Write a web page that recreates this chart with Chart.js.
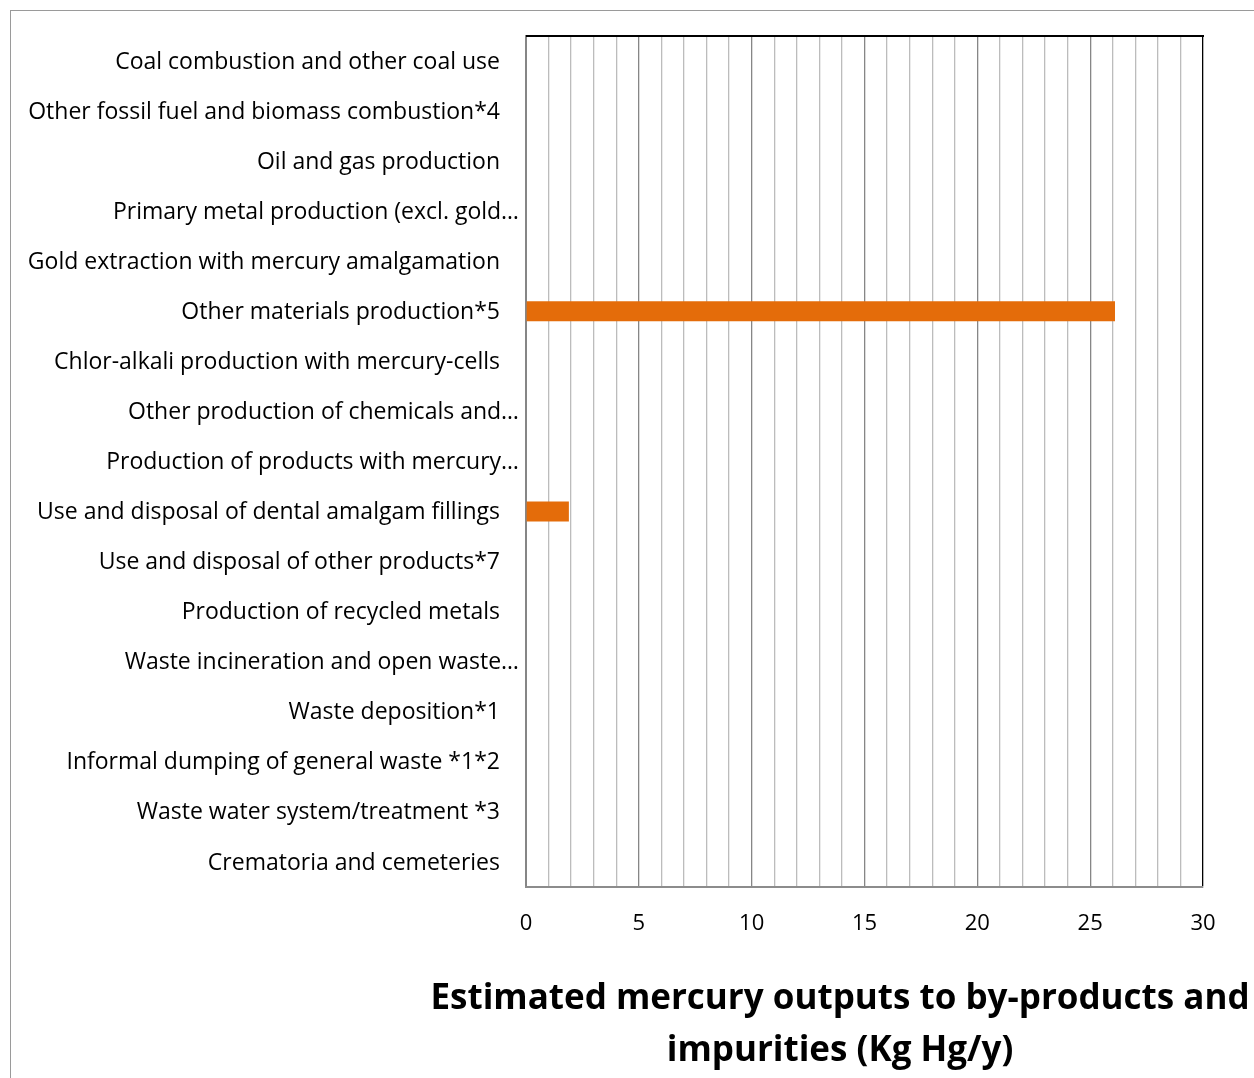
<!DOCTYPE html>
<html>
<head>
<meta charset="utf-8">
<script src="https://cdn.jsdelivr.net/npm/chart.js@4"></script>
<style>
  html, body { margin: 0; padding: 0; background: #fff; overflow: hidden; }
  #wrap { position: relative; width: 1254px; height: 1078px; }
  #frame { position: absolute; left: 10px; top: 10px; width: 1260px; height: 1100px;
           border-left: 1px solid #9a9a9a; border-top: 1px solid #9a9a9a; }
  canvas { position: absolute; left: 0; top: 0; }
</style>
</head>
<body>
<div id="wrap">
  <div id="frame"></div>
  <canvas id="c" width="1254" height="1078"></canvas>
</div>
<script>
// Source categories, top to bottom
const categories = [
  "Coal combustion and other coal use",
  "Other fossil fuel and biomass combustion*4",
  "Oil and gas production",
  "Primary metal production (excl. gold…",
  "Gold extraction with mercury amalgamation",
  "Other materials production*5",
  "Chlor-alkali production with mercury-cells",
  "Other production of chemicals and…",
  "Production of products with mercury…",
  "Use and disposal of dental amalgam fillings",
  "Use and disposal of other products*7",
  "Production of recycled metals",
  "Waste incineration and open waste…",
  "Waste deposition*1",
  "Informal dumping of general waste *1*2",
  "Waste water system/treatment *3",
  "Crematoria and cemeteries"
];

// Estimated outputs to by-products and impurities, Kg Hg/y
const outputs = [0, 0, 0, 0, 0, 26.1, 0, 0, 0, 1.9, 0, 0, 0, 0, 0, 0, 0];

const xMin = 0;
const xMax = 30;
const xLabelStep = 5;

const titleLines = [
  "Estimated mercury outputs to by-products and",
  "impurities (Kg Hg/y)"
];

const FONT = "'Open Sans', Lato, sans-serif";

// Category labels, right-aligned against the value axis
const categoryLabels = {
  id: 'categoryLabels',
  afterDraw(chart) {
    const { ctx, chartArea } = chart;
    const yScale = chart.scales.y;
    ctx.save();
    ctx.font = "23px " + FONT;
    ctx.fillStyle = "#000";
    ctx.textAlign = "right";
    ctx.textBaseline = "middle";
    categories.forEach((label, i) => {
      const y = yScale.getPixelForTick(i) + 1;
      const x = label.endsWith("…") ? chartArea.left - 7 : chartArea.left - 26;
      ctx.fillText(label, x, y);
    });
    ctx.restore();
  }
};

// Plot frame top edge and the axis title below the chart
const frameAndTitle = {
  id: 'frameAndTitle',
  beforeDatasetsDraw(chart) {
    const { ctx, chartArea } = chart;
    ctx.save();
    ctx.strokeStyle = "#000";
    ctx.lineWidth = 2;
    ctx.beginPath();
    ctx.moveTo(chartArea.left, chartArea.top);
    ctx.lineTo(chartArea.right + 1, chartArea.top);
    ctx.stroke();
    ctx.restore();
  },
  afterDraw(chart) {
    const { ctx } = chart;
    ctx.save();
    ctx.font = "bold 35px " + FONT;
    ctx.fillStyle = "#000";
    ctx.textAlign = "center";
    ctx.textBaseline = "middle";
    titleLines.forEach((line, i) => ctx.fillText(line, 840, 999 + i * 52));
    ctx.restore();
  }
};

new Chart(document.getElementById("c"), {
  type: "bar",
  data: {
    labels: categories,
    datasets: [{
      data: outputs,
      backgroundColor: "#E46C0A",
      borderWidth: 0,
      barPercentage: 0.4,
      categoryPercentage: 1.0
    }]
  },
  options: {
    indexAxis: "y",
    responsive: false,
    animation: false,
    layout: { padding: { top: 36, right: 51, bottom: 0, left: 0 } },
    plugins: { legend: { display: false }, tooltip: { enabled: false } },
    scales: {
      y: {
        grid: { display: false, drawTicks: false },
        border: { display: true, color: "#868686", width: 2 },
        ticks: { display: false },
        afterFit(scale) { scale.width = 526; }
      },
      x: {
        min: xMin,
        max: xMax,
        grid: {
          drawTicks: false,
          lineWidth: 1.3,
          color: (c) => {
            const v = c.tick ? c.tick.value : 0;
            if (v === xMax) return "#000";
            return v % xLabelStep === 0 ? "#868686" : "#bcbcbc";
          }
        },
        border: { display: true, color: "#8c8c8c", width: 2 },
        ticks: {
          stepSize: 1,
          autoSkip: false,
          maxRotation: 0,
          padding: 24,
          color: "#000",
          font: { family: FONT, size: 22 },
          callback: (v) => (v % xLabelStep === 0 ? String(v) : "")
        },
        afterFit(scale) { scale.height = 1078 - 887; }
      }
    }
  },
  plugins: [categoryLabels, frameAndTitle]
});
</script>
</body>
</html>
